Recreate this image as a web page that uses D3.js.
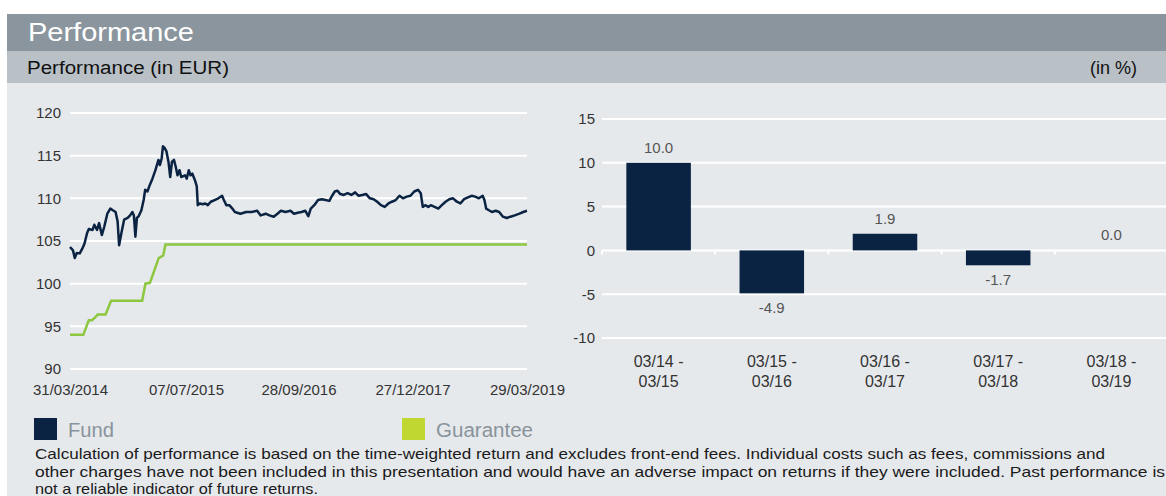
<!DOCTYPE html>
<html>
<head>
<meta charset="utf-8">
<script src="https://cdn.jsdelivr.net/npm/d3@7"></script>
<style>
  body { margin: 0; background: #fff; }
  svg { display: block; font-family: "Liberation Sans", Arial, sans-serif; }
  .tick-label { font-size: 15px; fill: #333; }
  .val-label { font-size: 15px; fill: #555; }
</style>
</head>
<body>
<div id="chart"></div>
<script>
// ---- data ----
const fundDates = [
  "2014-03-31","2014-04-12","2014-04-19","2014-04-27","2014-05-09","2014-05-19","2014-05-28","2014-06-07",
  "2014-06-14","2014-06-29","2014-07-06","2014-07-17","2014-07-25","2014-08-05","2014-08-15","2014-08-27",
  "2014-09-08","2014-09-18","2014-09-29","2014-10-07","2014-10-13","2014-10-22","2014-11-02","2014-11-16",
  "2014-11-26","2014-12-05","2014-12-11","2014-12-17","2014-12-23","2014-12-30","2015-01-10","2015-01-19",
  "2015-01-25","2015-02-03","2015-02-13","2015-02-23","2015-03-07","2015-03-19","2015-03-25","2015-04-01",
  "2015-04-06","2015-04-13","2015-04-20","2015-04-28","2015-05-05","2015-05-12","2015-05-20","2015-05-27",
  "2015-06-03","2015-06-11","2015-06-18","2015-07-03","2015-07-10","2015-07-18","2015-07-25","2015-08-01",
  "2015-08-12","2015-08-19","2015-08-23","2015-08-31","2015-09-12","2015-09-22","2015-10-02","2015-10-14",
  "2015-10-29","2015-11-13","2015-11-28","2015-12-05","2015-12-15","2015-12-27","2016-01-08","2016-01-18",
  "2016-02-09","2016-03-03","2016-03-25","2016-04-16","2016-04-30","2016-05-20","2016-06-04","2016-06-21",
  "2016-07-06","2016-07-20","2016-08-07","2016-08-27","2016-09-10","2016-09-25","2016-10-10","2016-10-25",
  "2016-11-06","2016-11-16","2016-11-30","2016-12-15","2016-12-30","2017-01-14","2017-01-29","2017-02-09",
  "2017-02-20","2017-03-02","2017-03-14","2017-03-28","2017-04-12","2017-04-27","2017-05-12","2017-05-26",
  "2017-06-10","2017-06-25","2017-07-10","2017-07-25","2017-08-08","2017-08-23","2017-09-07","2017-09-22",
  "2017-10-06","2017-10-21","2017-11-05","2017-11-19","2017-12-04","2017-12-19","2018-01-03","2018-01-18",
  "2018-01-29","2018-02-06","2018-02-16","2018-02-28","2018-03-10","2018-03-25","2018-04-09","2018-04-23",
  "2018-05-08","2018-05-23","2018-06-07","2018-06-22","2018-07-06","2018-07-21","2018-08-05","2018-08-20",
  "2018-09-03","2018-09-18","2018-10-03","2018-10-10","2018-10-17","2018-10-28","2018-11-09","2018-11-24",
  "2018-12-08","2018-12-23","2019-01-07","2019-01-22","2019-02-08","2019-02-27","2019-03-14","2019-03-29"
];
const fundValues = [
  104.3,103.9,103.0,103.6,103.55,104.1,104.7,105.9,
  106.4,106.3,106.9,106.3,107.1,105.7,106.7,108.2,
  108.8,108.6,108.4,107.3,104.5,105.9,107.5,107.7,
  108.0,108.4,108.0,105.5,107.7,107.9,108.6,109.8,
  111.0,110.8,111.6,112.3,113.3,114.5,113.9,114.7,
  116.1,115.9,115.5,114.3,112.5,114.3,114.5,113.7,
  112.7,113.3,112.5,112.7,112.3,113.3,112.7,112.9,
  112.1,111.4,109.2,109.4,109.3,109.4,109.2,109.6,
  109.8,110.0,110.3,109.8,109.2,109.2,108.8,108.4,
  108.2,108.4,108.4,108.55,108.0,108.2,108.0,107.85,
  108.2,108.55,108.4,108.55,108.2,108.3,108.4,108.55,
  107.9,108.8,109.2,109.8,109.9,109.8,109.7,110.3,
  110.8,110.9,110.5,110.4,110.6,110.4,110.7,110.3,
  110.4,110.5,110.0,109.9,109.6,109.2,109.0,109.4,
  109.6,109.8,110.3,110.0,110.2,110.3,110.8,111.0,
  110.6,109.0,109.2,109.0,109.2,109.0,108.8,109.2,
  109.6,109.9,110.0,109.6,109.4,109.9,110.1,110.3,
  110.2,110.0,110.3,109.8,108.8,108.6,108.4,108.55,
  108.4,107.85,107.7,107.85,108.0,108.2,108.4,108.55
];
const guaranteeDates = [
  "2014-03-31","2014-05-23","2014-06-14","2014-06-27","2014-07-11","2014-07-20","2014-08-20","2014-09-11",
  "2015-01-13","2015-01-26","2015-02-13","2015-03-20","2015-04-07","2015-04-16","2019-03-29"
];
const guaranteeValues = [
  94.0,94.0,95.7,95.7,96.1,96.4,96.4,98.0,
  98.0,100.0,100.1,103.0,103.3,104.6,104.6
];
const lineTicksY = [90, 95, 100, 105, 110, 115, 120];
const lineTicksX = ["2014-03-31","2015-07-07","2016-09-28","2017-12-27","2019-03-29"];

const barCategories = ["03/14 - 03/15","03/15 - 03/16","03/16 - 03/17","03/17 - 03/18","03/18 - 03/19"];
const barValues = [10.0, -4.9, 1.9, -1.7, 0.0];
const barTicksY = [-10, -5, 0, 5, 10, 15];

const legendItems = ["Fund", "Guarantee"];
const footnote = [
  "Calculation of performance is based on the time-weighted return and excludes front-end fees. Individual costs such as fees, commissions and",
  "other charges have not been included in this presentation and would have an adverse impact on returns if they were included. Past performance is",
  "not a reliable indicator of future returns."
];

// ---- setup ----
const W = 1166, H = 496;
const navy = "#0b2342", green = "#8dc63f", greenLegend = "#bfd730";
const parse = d3.timeParse("%Y-%m-%d");
const fmt = d3.timeFormat("%d/%m/%Y");

const svg = d3.select("#chart").append("svg")
  .attr("width", W).attr("height", H);

// background bands
svg.append("rect").attr("x", 7).attr("y", 83).attr("width", W - 7).attr("height", H - 83).attr("fill", "#e6e9ec");
svg.append("rect").attr("x", 7).attr("y", 14).attr("width", W - 7).attr("height", 37).attr("fill", "#8a959e");
svg.append("rect").attr("x", 7).attr("y", 51).attr("width", W - 7).attr("height", 32).attr("fill", "#b9c0c6");

svg.append("text").attr("x", 28).attr("y", 41)
  .attr("fill", "#fff").style("font-size", "25px")
  .attr("textLength", 166).attr("lengthAdjust", "spacingAndGlyphs")
  .text("Performance");
svg.append("text").attr("x", 27).attr("y", 74)
  .attr("fill", "#111").style("font-size", "18px")
  .attr("textLength", 202).attr("lengthAdjust", "spacingAndGlyphs")
  .text("Performance (in EUR)");
svg.append("text").attr("x", 1137).attr("y", 74)
  .attr("fill", "#111").style("font-size", "18px")
  .attr("text-anchor", "end")
  .text("(in %)");

// ---- line chart ----
const fund = fundDates.map((d, i) => ({ date: parse(d), value: fundValues[i] }));
const guarantee = guaranteeDates.map((d, i) => ({ date: parse(d), value: guaranteeValues[i] }));

const xLine = d3.scaleTime()
  .domain([parse(lineTicksX[0]), parse(lineTicksX[lineTicksX.length - 1])])
  .range([70, 527]);
const yLine = d3.scaleLinear().domain([90, 120]).range([369, 113]);

// grid
svg.append("g")
  .selectAll("line").data(lineTicksY).enter().append("line")
    .attr("x1", 70).attr("x2", 527)
    .attr("y1", d => yLine(d)).attr("y2", d => yLine(d))
    .attr("stroke", "#fff").attr("stroke-width", 2);

svg.append("g")
  .attr("transform", "translate(70,0)")
  .call(d3.axisLeft(yLine).tickValues(lineTicksY).tickSize(0).tickPadding(9))
  .call(g => g.select(".domain").remove())
  .call(g => g.selectAll("text").attr("class", "tick-label").attr("fill", null).style("font-family", null));

svg.append("g")
  .attr("transform", "translate(0,384)")
  .call(d3.axisBottom(xLine).tickValues(lineTicksX.map(parse)).tickFormat(fmt).tickSize(0).tickPadding(0))
  .call(g => g.select(".domain").remove())
  .call(g => g.selectAll("text").attr("class", "tick-label").attr("fill", null).style("font-family", null));

const line = d3.line().x(d => xLine(d.date)).y(d => yLine(d.value));

svg.append("path").datum(guarantee)
  .attr("fill", "none").attr("stroke", green).attr("stroke-width", 2.5)
  .attr("d", line);

svg.append("path").datum(fund)
  .attr("fill", "none").attr("stroke", navy).attr("stroke-width", 2.5)
  .attr("stroke-linejoin", "round")
  .attr("d", line);

// ---- bar chart ----
const xBar = d3.scaleBand().domain(barCategories).range([602, 1168])
  .paddingInner(0.43).paddingOuter(0.215);
const yBar = d3.scaleLinear().domain([-10, 15]).range([338, 119]);

svg.append("g")
  .selectAll("line").data(barTicksY).enter().append("line")
    .attr("x1", 602).attr("x2", W)
    .attr("y1", d => yBar(d)).attr("y2", d => yBar(d))
    .attr("stroke", "#fff").attr("stroke-width", 2);

// small tick marks on the zero line between categories
const step = xBar.step(), inset = (step - xBar.bandwidth()) / 2;
svg.append("g")
  .selectAll("line").data(barCategories).enter().append("line")
    .attr("x1", d => xBar(d) - inset).attr("x2", d => xBar(d) - inset)
    .attr("y1", yBar(0)).attr("y2", yBar(0) + 4)
    .attr("stroke", "#fff").attr("stroke-width", 2);

svg.append("g")
  .attr("transform", "translate(602,0)")
  .call(d3.axisLeft(yBar).tickValues(barTicksY).tickFormat(d => String(d)).tickSize(0).tickPadding(7))
  .call(g => g.select(".domain").remove())
  .call(g => g.selectAll("text").attr("class", "tick-label").attr("fill", null).style("font-family", null));

svg.append("g")
  .selectAll("rect").data(barValues).enter().append("rect")
    .attr("x", (d, i) => xBar(barCategories[i]))
    .attr("width", xBar.bandwidth())
    .attr("y", d => yBar(Math.max(0, d)))
    .attr("height", d => Math.abs(yBar(d) - yBar(0)))
    .attr("fill", navy);

svg.append("g")
  .selectAll("text").data(barValues).enter().append("text")
    .attr("class", "val-label")
    .attr("text-anchor", "middle")
    .attr("x", (d, i) => xBar(barCategories[i]) + xBar.bandwidth() / 2)
    .attr("y", d => d < 0 ? yBar(d) + 20 : yBar(d) - 10)
    .text(d => d.toFixed(1));

// two-line category labels
const catLabels = svg.append("g")
  .selectAll("text").data(barCategories).enter().append("text")
    .attr("class", "tick-label")
    .attr("text-anchor", "middle")
    .style("font-size", "16px")
    .attr("x", d => xBar(d) + xBar.bandwidth() / 2)
    .attr("y", 367);
catLabels.each(function(d) {
  const parts = d.split(" - ");
  const t = d3.select(this);
  t.append("tspan").attr("x", t.attr("x")).attr("dy", 0).text(parts[0] + " -");
  t.append("tspan").attr("x", t.attr("x")).attr("dy", 20).text(parts[1]);
});

// ---- legend ----
const legX = [34, 402], legW = [46, 97];
const legend = svg.selectAll(".legend").data(legendItems).enter().append("g")
  .attr("transform", (d, i) => "translate(" + legX[i] + ",418)");
legend.append("rect")
  .attr("width", 23).attr("height", 22)
  .attr("fill", (d, i) => i === 0 ? navy : greenLegend);
legend.append("text")
  .attr("x", 34).attr("y", 19)
  .attr("fill", "#88939b").style("font-size", "20px")
  .attr("textLength", (d, i) => legW[i]).attr("lengthAdjust", "spacingAndGlyphs")
  .text(d => d);

// ---- footnote ----
const footLen = [1070, 1130, 283];
svg.append("g").selectAll("text").data(footnote).enter().append("text")
  .attr("x", 35).attr("y", (d, i) => 459 + i * 17.5)
  .attr("fill", "#1a1a1a").style("font-size", "15px")
  .attr("textLength", (d, i) => footLen[i]).attr("lengthAdjust", "spacingAndGlyphs")
  .text(d => d);
</script>
</body>
</html>
